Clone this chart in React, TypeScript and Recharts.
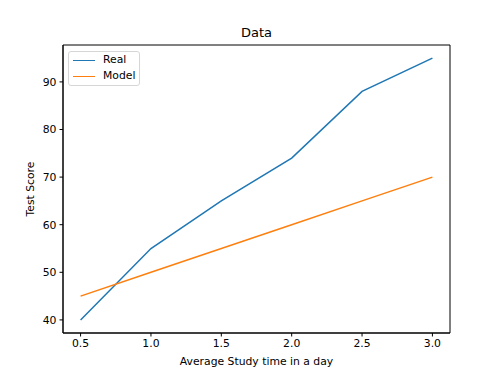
import { Line, LineChart, ReferenceArea, XAxis, YAxis } from "recharts";

const studyHours = [0.5, 1.0, 1.5, 2.0, 2.5, 3.0];
const realScores = [40, 55, 65, 74, 88, 95];
const modelScores = [45, 50, 55, 60, 65, 70];
const xTicks = [0.5, 1.0, 1.5, 2.0, 2.5, 3.0];
const yTicks = [40, 50, 60, 70, 80, 90];

const data = studyHours.map((h, i) => ({
  hours: h,
  real: realScores[i],
  model: modelScores[i],
}));

const X_DOMAIN = [0.375, 3.125];
const Y_DOMAIN = [37.25, 97.75];

const FONT = "DejaVu Sans";
const tickStyle = { fontSize: 10.8, fill: "#000", fontFamily: FONT };

const legendRows = [
  { name: "Real", color: "#1f77b4" },
  { name: "Model", color: "#ff7f0e" },
];

function MplLegend() {
  return (
    <div
      style={{
        position: "absolute",
        left: 68,
        top: 51,
        border: "1px solid #d6d6d6",
        borderRadius: 3,
        background: "rgba(255,255,255,0.8)",
        padding: "0px 4px 1px 4px",
        fontFamily: FONT,
        fontSize: 10.8,
        lineHeight: "16px",
      }}
    >
      {legendRows.map((r) => (
        <div key={r.name} style={{ display: "flex", alignItems: "center" }}>
          <span
            style={{
              display: "inline-block",
              width: 22,
              height: 0,
              borderTop: `1.5px solid ${r.color}`,
              marginRight: 8,
            }}
          />
          <span>{r.name}</span>
        </div>
      ))}
    </div>
  );
}

export default function App() {
  return (
    <div
      style={{
        position: "absolute",
        left: 0,
        top: 0,
        width: 500,
        height: 375,
        background: "#fff",
      }}
    >
      <LineChart
        width={500}
        height={375}
        data={data}
        margin={{ top: 45, right: 50, left: 0, bottom: 0 }}
      >
        <ReferenceArea
          x1={X_DOMAIN[0]}
          x2={X_DOMAIN[1]}
          y1={Y_DOMAIN[0]}
          y2={Y_DOMAIN[1]}
          fill="none"
          stroke="#000"
          strokeWidth={1}
          fillOpacity={0}
          ifOverflow="visible"
        />
        <XAxis
          dataKey="hours"
          type="number"
          domain={X_DOMAIN}
          ticks={xTicks}
          tickFormatter={(v: number) => v.toFixed(1)}
          tick={tickStyle}
          tickSize={3.5}
          tickMargin={3}
          height={42}
          axisLine={{ stroke: "#000" }}
          tickLine={{ stroke: "#000" }}
          label={{
            value: "Average Study time in a day",
            position: "insideBottom",
            offset: 10,
            style: { fontSize: 10.8, fill: "#000", fontFamily: FONT },
          }}
        />
        <YAxis
          type="number"
          domain={Y_DOMAIN}
          ticks={yTicks}
          tick={tickStyle}
          tickSize={3.5}
          tickMargin={3}
          width={63}
          axisLine={{ stroke: "#000" }}
          tickLine={{ stroke: "#000" }}
          label={{
            value: "Test Score",
            angle: -90,
            position: "insideLeft",
            offset: 30,
            style: {
              fontSize: 10.8,
              fill: "#000",
              fontFamily: FONT,
              textAnchor: "middle",
            },
          }}
        />
        <Line
          dataKey="real"
          name="Real"
          stroke="#1f77b4"
          strokeWidth={1.5}
          dot={false}
          isAnimationActive={false}
        />
        <Line
          dataKey="model"
          name="Model"
          stroke="#ff7f0e"
          strokeWidth={1.5}
          dot={false}
          isAnimationActive={false}
        />
      </LineChart>
      <div
        style={{
          position: "absolute",
          left: 0,
          top: 25,
          width: 500,
          paddingLeft: 13,
          boxSizing: "border-box",
          textAlign: "center",
          fontFamily: FONT,
          fontSize: 13,
          lineHeight: "16px",
        }}
      >
        Data
      </div>
      <MplLegend />
    </div>
  );
}
